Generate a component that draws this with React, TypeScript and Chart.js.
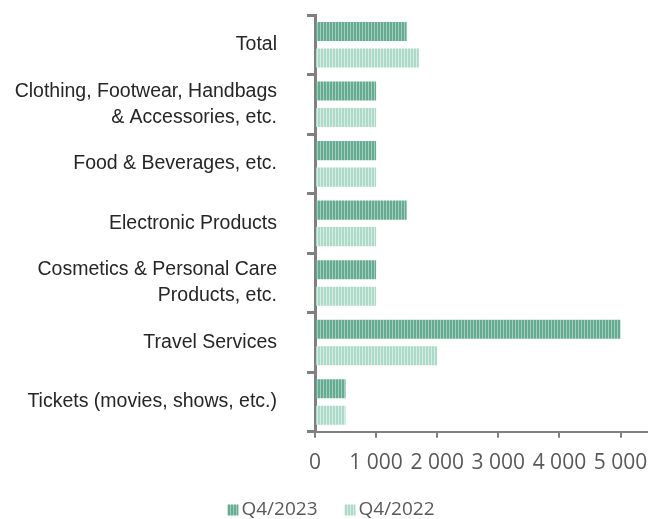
import React, { useEffect, useRef } from "react";
import { Chart, registerables } from "chart.js";

Chart.register(...registerables);

const categories: (string | string[])[] = [
  "Total",
  ["Clothing, Footwear, Handbags", "& Accessories, etc."],
  "Food & Beverages, etc.",
  "Electronic Products",
  ["Cosmetics & Personal Care", "Products, etc."],
  "Travel Services",
  "Tickets (movies, shows, etc.)",
];
const q42023 = [1500, 1000, 1000, 1500, 1000, 5000, 500];
const q42022 = [1700, 1000, 1000, 1000, 1000, 2000, 500];
const seriesNames = ["Q4/2023", "Q4/2022"];
const xTicks = [0, 1000, 2000, 3000, 4000, 5000];

function stripe(base: string, light: string): CanvasPattern | string {
  const c = document.createElement("canvas");
  c.width = 3;
  c.height = 4;
  const ctx = c.getContext("2d");
  if (!ctx) return base;
  ctx.fillStyle = base;
  ctx.fillRect(0, 0, 3, 4);
  ctx.fillStyle = light;
  ctx.fillRect(2, 0, 1, 4);
  const p = ctx.createPattern(c, "repeat");
  return p || base;
}

const legendPlugin = {
  id: "customLegend",
  afterDraw(chart: any) {
    const ctx = chart.ctx as CanvasRenderingContext2D;
    ctx.save();
    ctx.font = "19px 'Open Sans', sans-serif";
    ctx.textBaseline = "middle";
    ctx.textAlign = "left";
    const box = 11;
    const gap = 3;
    const itemGap = 27;
    const ds = chart.data.datasets;
    const widths = ds.map((d: any) => box + gap + ctx.measureText(d.label).width);
    const total = widths.reduce((a: number, b: number) => a + b, 0) + itemGap * (ds.length - 1);
    let x = 331 - total / 2;
    const cy = 510;
    ds.forEach((d: any, i: number) => {
      ctx.fillStyle = d.backgroundColor;
      ctx.fillRect(x, cy - box / 2, box, box);
      ctx.fillStyle = "#595959";
      ctx.fillText(d.label, x + box + gap, cy);
      x += widths[i] + itemGap;
    });
    ctx.restore();
  },
};

export default function App() {
  const ref = useRef<HTMLCanvasElement | null>(null);
  useEffect(() => {
    document.body.style.margin = "0";
    if (!ref.current) return;
    const dark = stripe("#66ab91", "#a0cfbd");
    const light = stripe("#addac8", "#d6eee4");
    const chart = new Chart(ref.current, {
      type: "bar",
      data: {
        labels: categories,
        datasets: [
          {
            label: seriesNames[0],
            data: q42023,
            backgroundColor: dark as any,
            borderWidth: 0,
            categoryPercentage: 0.89,
            barPercentage: 0.72,
          },
          {
            label: seriesNames[1],
            data: q42022,
            backgroundColor: light as any,
            borderWidth: 0,
            categoryPercentage: 0.89,
            barPercentage: 0.72,
          },
        ],
      },
      plugins: [legendPlugin],
      options: {
        indexAxis: "y",
        animation: false,
        responsive: false,
        devicePixelRatio: 1,
        layout: { padding: { top: 15, right: 0, left: 0, bottom: 30 } },
        plugins: {
          tooltip: { enabled: false },
          legend: { display: false },
        },
        scales: {
          x: {
            min: 0,
            max: 5450,
            afterBuildTicks: (scale: any) => {
              scale.ticks = xTicks.map((v) => ({ value: v }));
            },
            afterFit: (scale: any) => {
              scale.paddingRight = 0;
              scale.paddingLeft = 0;
            },
            ticks: {
              color: "#595959",
              padding: 13,
              autoSkip: false,
              maxRotation: 0,
              font: { family: "'Open Sans', sans-serif", size: 21 },
              callback: (v: any) => {
                const n = Number(v);
                return n === 0 ? "0" : String(n).replace(/\B(?=(\d{3})+(?!\d))/g, " ");
              },
            },
            grid: {
              display: true,
              drawOnChartArea: false,
              drawTicks: true,
              tickLength: 6,
              color: "#808080",
              lineWidth: 2,
            },
            border: { display: true, color: "#808080", width: 2 },
          },
          y: {
            afterFit: (scale: any) => {
              scale.width = 315;
              scale.paddingTop = 0;
              scale.paddingBottom = 0;
            },
            ticks: {
              color: "#262626",
              padding: 30,
              autoSkip: false,
              font: { family: "'Liberation Sans', Arial, sans-serif", size: 19.5, lineHeight: 1.33 },
            },
            grid: {
              display: true,
              offset: true,
              drawOnChartArea: false,
              drawTicks: true,
              tickLength: 8,
              color: "#808080",
              lineWidth: 3,
            },
            border: { display: true, color: "#808080", width: 3 },
          },
        },
      },
    });
    return () => chart.destroy();
  }, []);
  return <canvas ref={ref} width={648} height={519} style={{ display: "block" }} />;
}
